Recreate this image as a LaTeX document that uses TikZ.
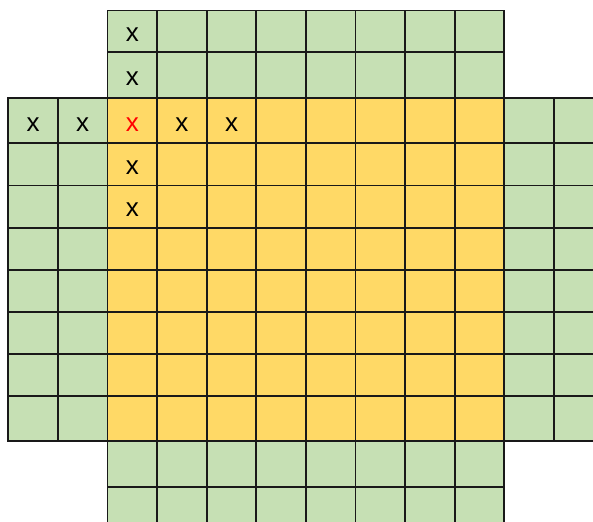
\documentclass[tikz,border=0pt]{standalone}
\usepackage{fontspec}
\setmainfont{Liberation Sans}
\definecolor{cellgreen}{RGB}{198,224,180}
\definecolor{cellgold}{RGB}{255,217,102}
\definecolor{markred}{RGB}{255,0,0}
\usetikzlibrary{positioning}

\begin{document}
\begin{tikzpicture}[x=1pt,y=-1pt,
  cell/.style={draw=black!90,line width=1.7pt},
  xmark/.style={font=\fontsize{26}{26}\selectfont,inner sep=0pt}
]
  \clip (0,0) rectangle (593,521);

  % Green arms above and below
  \foreach \ya/\yb in {10.5/52.3, 52.3/98.3, 440.8/486.8, 486.8/532}
    \foreach \c in {2,...,9}
      \draw[cell,fill=cellgreen] ({8.3+49.6*\c},\ya) rectangle ({57.9+49.6*\c},\yb);

  % Middle band: green sides, gold core
  \foreach \ya/\yb in {98.3/143.3, 143.3/185.5, 185.5/227.8, 227.8/269.8,
                       269.8/312, 312/354, 354/396.3, 396.3/440.8} {
    \foreach \c in {0,1,10,11}
      \draw[cell,fill=cellgreen] ({8.3+49.6*\c},\ya) rectangle ({57.9+49.6*\c},\yb);
    \foreach \c in {2,...,9}
      \draw[cell,fill=cellgold] ({8.3+49.6*\c},\ya) rectangle ({57.9+49.6*\c},\yb);
  }

  % Marks
  \foreach \c/\r/\y in {2/0/31.4, 2/1/75.3, 0/2/120.8, 1/2/120.8, 3/2/120.8,
                        4/2/120.8, 2/3/164.4, 2/4/206.6}
    \node[xmark] (x-\r-\c) at ({33.1+49.6*\c},\y+3.5) {x};
  \node[xmark,markred] (x-2-2) at ({33.1+49.6*2},124.3) {x};
\end{tikzpicture}
\end{document}
